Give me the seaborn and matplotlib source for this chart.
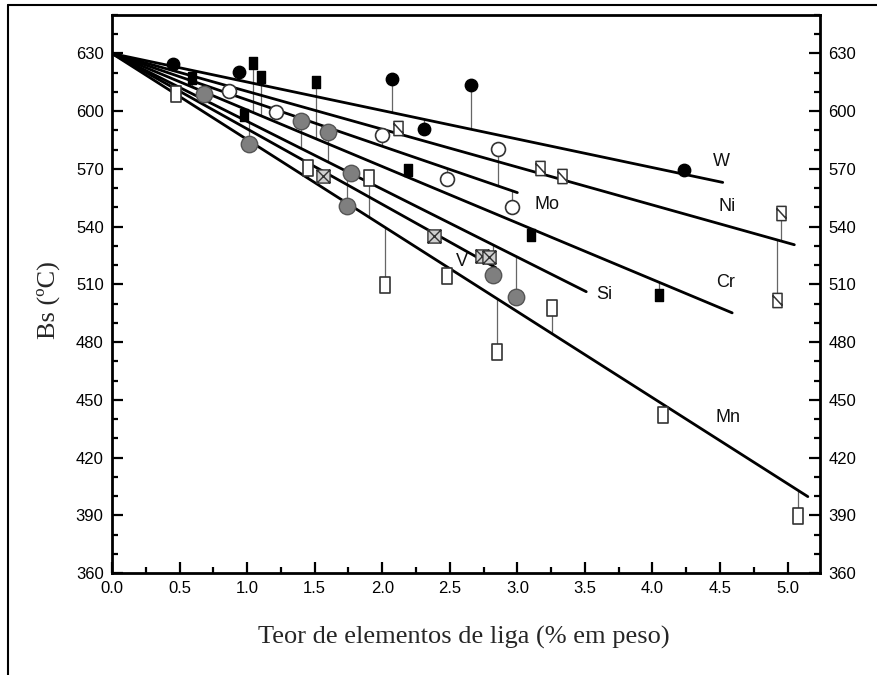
import numpy as np
import pandas as pd
import matplotlib
matplotlib.use("Agg")
import matplotlib.pyplot as plt
from matplotlib.path import Path
from matplotlib.lines import Line2D
from matplotlib.ticker import MultipleLocator, FormatStrFormatter
import seaborn as sns

# ---------------- data ----------------
elements = ["W", "Ni", "Mo", "Cr", "Si", "V", "Mn"]
bs_origin = 630.0
line_x_end = [4.52, 5.05, 3.00, 4.59, 3.51, 2.84, 5.15]
line_bs_end = [563.0, 530.6, 557.7, 495.2, 506.2, 518.7, 399.7]
label_x = [4.51, 4.55, 3.22, 4.54, 3.64, 2.59, 4.56]
label_bs = [573.8, 550.4, 551.4, 510.9, 504.6, 521.8, 440.6]

w_x = [0.45, 0.94, 2.07, 2.31, 2.66, 4.23]
w_bs = [624.3, 620.5, 616.8, 590.5, 613.4, 569.6]
ni_x = [2.12, 3.17, 3.33, 4.92, 4.95]
ni_bs = [591.3, 570.5, 566.2, 502.0, 547.1]
mo_x = [0.867, 1.217, 1.995, 2.48, 2.86, 2.96]
mo_bs = [610.4, 599.5, 587.5, 565.0, 580.6, 550.0]
cr_x = [0.595, 0.98, 1.04, 1.10, 1.51, 2.19, 3.10, 4.05]
cr_bs = [617.3, 597.9, 625.2, 617.9, 615.3, 569.6, 535.5, 504.6]
si_x = [0.68, 1.015, 1.40, 1.595, 1.74, 1.77, 2.82, 2.99]
si_bs = [608.7, 583.0, 594.8, 589.3, 550.5, 567.9, 515.0, 503.7]
v_x = [1.56, 2.385, 2.74, 2.79]
v_bs = [566.2, 535.0, 524.5, 524.0]
mn_x = [0.47, 1.447, 1.90, 2.02, 2.48, 2.85, 3.26, 4.08, 5.08]
mn_bs = [609.0, 570.5, 565.3, 509.8, 514.1, 475.0, 497.7, 442.2, 389.6]

x_ticks_step = 0.5
y_ticks_step = 30

# ---------------- style ----------------
sns.set_style("ticks")
plt.rcParams["font.family"] = ["Liberation Sans Narrow", "Liberation Sans", "DejaVu Sans"]

fig = plt.figure(figsize=(8.77, 6.75), dpi=100)
ax = fig.add_axes([112 / 877, 1 - 573 / 675, 708 / 877, 558 / 675])

# regression lines
rows = []
for el, xe, be in zip(elements, line_x_end, line_bs_end):
    rows.append({"el": el, "x": 0.0, "bs": bs_origin})
    rows.append({"el": el, "x": xe, "bs": be})
lines_df = pd.DataFrame(rows)
sns.lineplot(data=lines_df, x="x", y="bs", hue="el", units="el", estimator=None,
             palette={e: "black" for e in elements}, linewidth=2.0, legend=False,
             ax=ax, zorder=2, sort=False)

slope = {e: (be - bs_origin) / xe for e, xe, be in zip(elements, line_x_end, line_bs_end)}

# markers
rect = Path([(-0.32, -0.5), (0.32, -0.5), (0.32, 0.5), (-0.32, 0.5), (-0.32, -0.5)],
            [Path.MOVETO, Path.LINETO, Path.LINETO, Path.LINETO, Path.CLOSEPOLY])
rect_slash = Path([(-0.32, -0.5), (0.32, -0.5), (0.32, 0.5), (-0.32, 0.5), (-0.32, -0.5),
                   (-0.32, 0.35), (0.32, -0.35)],
                  [Path.MOVETO, Path.LINETO, Path.LINETO, Path.LINETO, Path.CLOSEPOLY,
                   Path.MOVETO, Path.LINETO])
sq_cross = Path([(-0.5, -0.5), (0.5, -0.5), (0.5, 0.5), (-0.5, 0.5), (-0.5, -0.5),
                 (-0.5, -0.5), (0.5, 0.5), (-0.5, 0.5), (0.5, -0.5)],
                [Path.MOVETO, Path.LINETO, Path.LINETO, Path.LINETO, Path.CLOSEPOLY,
                 Path.MOVETO, Path.LINETO, Path.MOVETO, Path.LINETO])

series = [
    ("W", w_x, w_bs, dict(marker="o", s=80, color="black", edgecolor="black", linewidth=1)),
    ("Ni", ni_x, ni_bs, dict(marker=rect_slash, s=105, color="white", edgecolor="#333333", linewidth=1.1)),
    ("Mo", mo_x, mo_bs, dict(marker="o", s=100, color="white", edgecolor="#333333", linewidth=1.2)),
    ("Cr", cr_x, cr_bs, dict(marker=rect, s=75, color="black", edgecolor="black", linewidth=1)),
    ("Si", si_x, si_bs, dict(marker="o", s=140, color="#7f7f7f", edgecolor="#555555", linewidth=1)),
    ("V", v_x, v_bs, dict(marker=sq_cross, s=90, color="#d0d0d0", edgecolor="#333333", linewidth=1)),
    ("Mn", mn_x, mn_bs, dict(marker=rect, s=125, color="white", edgecolor="#333333", linewidth=1.2)),
]

for el, xs, bs, kw in series:
    xs = np.asarray(xs)
    bs = np.asarray(bs)
    on_line = bs_origin + slope[el] * xs
    ax.vlines(xs, bs, on_line, color="#666666", linewidth=0.9, zorder=1.5)
    sns.scatterplot(x=xs, y=bs, ax=ax, zorder=3, legend=False, **kw)

for el, lx, lb in zip(elements, label_x, label_bs):
    ax.text(lx, lb, el, fontsize=13, ha="center", va="center",
            family=["Liberation Sans", "DejaVu Sans"], color="#111111")

# axes
ax.set_xlim(0, 5.24)
ax.set_ylim(360, 650)
ax.xaxis.set_major_locator(MultipleLocator(x_ticks_step))
ax.xaxis.set_minor_locator(MultipleLocator(x_ticks_step / 2))
ax.xaxis.set_major_formatter(FormatStrFormatter("%.1f"))
ax.yaxis.set_major_locator(MultipleLocator(y_ticks_step))
ax.yaxis.set_minor_locator(MultipleLocator(10))
ax.tick_params(axis="both", which="both", direction="in", width=1.6, colors="black",
               labelsize=12, right=True, labelright=True, top=False)
ax.tick_params(axis="both", which="major", length=8, pad=6)
ax.tick_params(axis="both", which="minor", length=4)
for sp in ax.spines.values():
    sp.set_visible(True)
    sp.set_linewidth(2.0)
    sp.set_color("black")

ax.set_xlabel("Teor de elementos de liga (% em peso)", fontsize=19,
              family=["Liberation Serif", "DejaVu Serif"])
ax.set_ylabel("Bs (ºC)", fontsize=19, family=["Liberation Serif", "DejaVu Serif"])
ax.xaxis.set_label_coords(0.497, -0.115)
ax.xaxis.label.set_va("center")
ax.yaxis.set_label_coords(-0.09, 0.49)
ax.yaxis.label.set_va("center")

# outer frame of the screenshot
fig.add_artist(Line2D([8 / 877, 1], [1 - 5 / 675, 1 - 5 / 675], transform=fig.transFigure,
                      color="black", linewidth=1.5))
fig.add_artist(Line2D([8 / 877, 8 / 877], [0, 1 - 5 / 675], transform=fig.transFigure,
                      color="black", linewidth=1.5))

fig.savefig("out.png", dpi=100)
